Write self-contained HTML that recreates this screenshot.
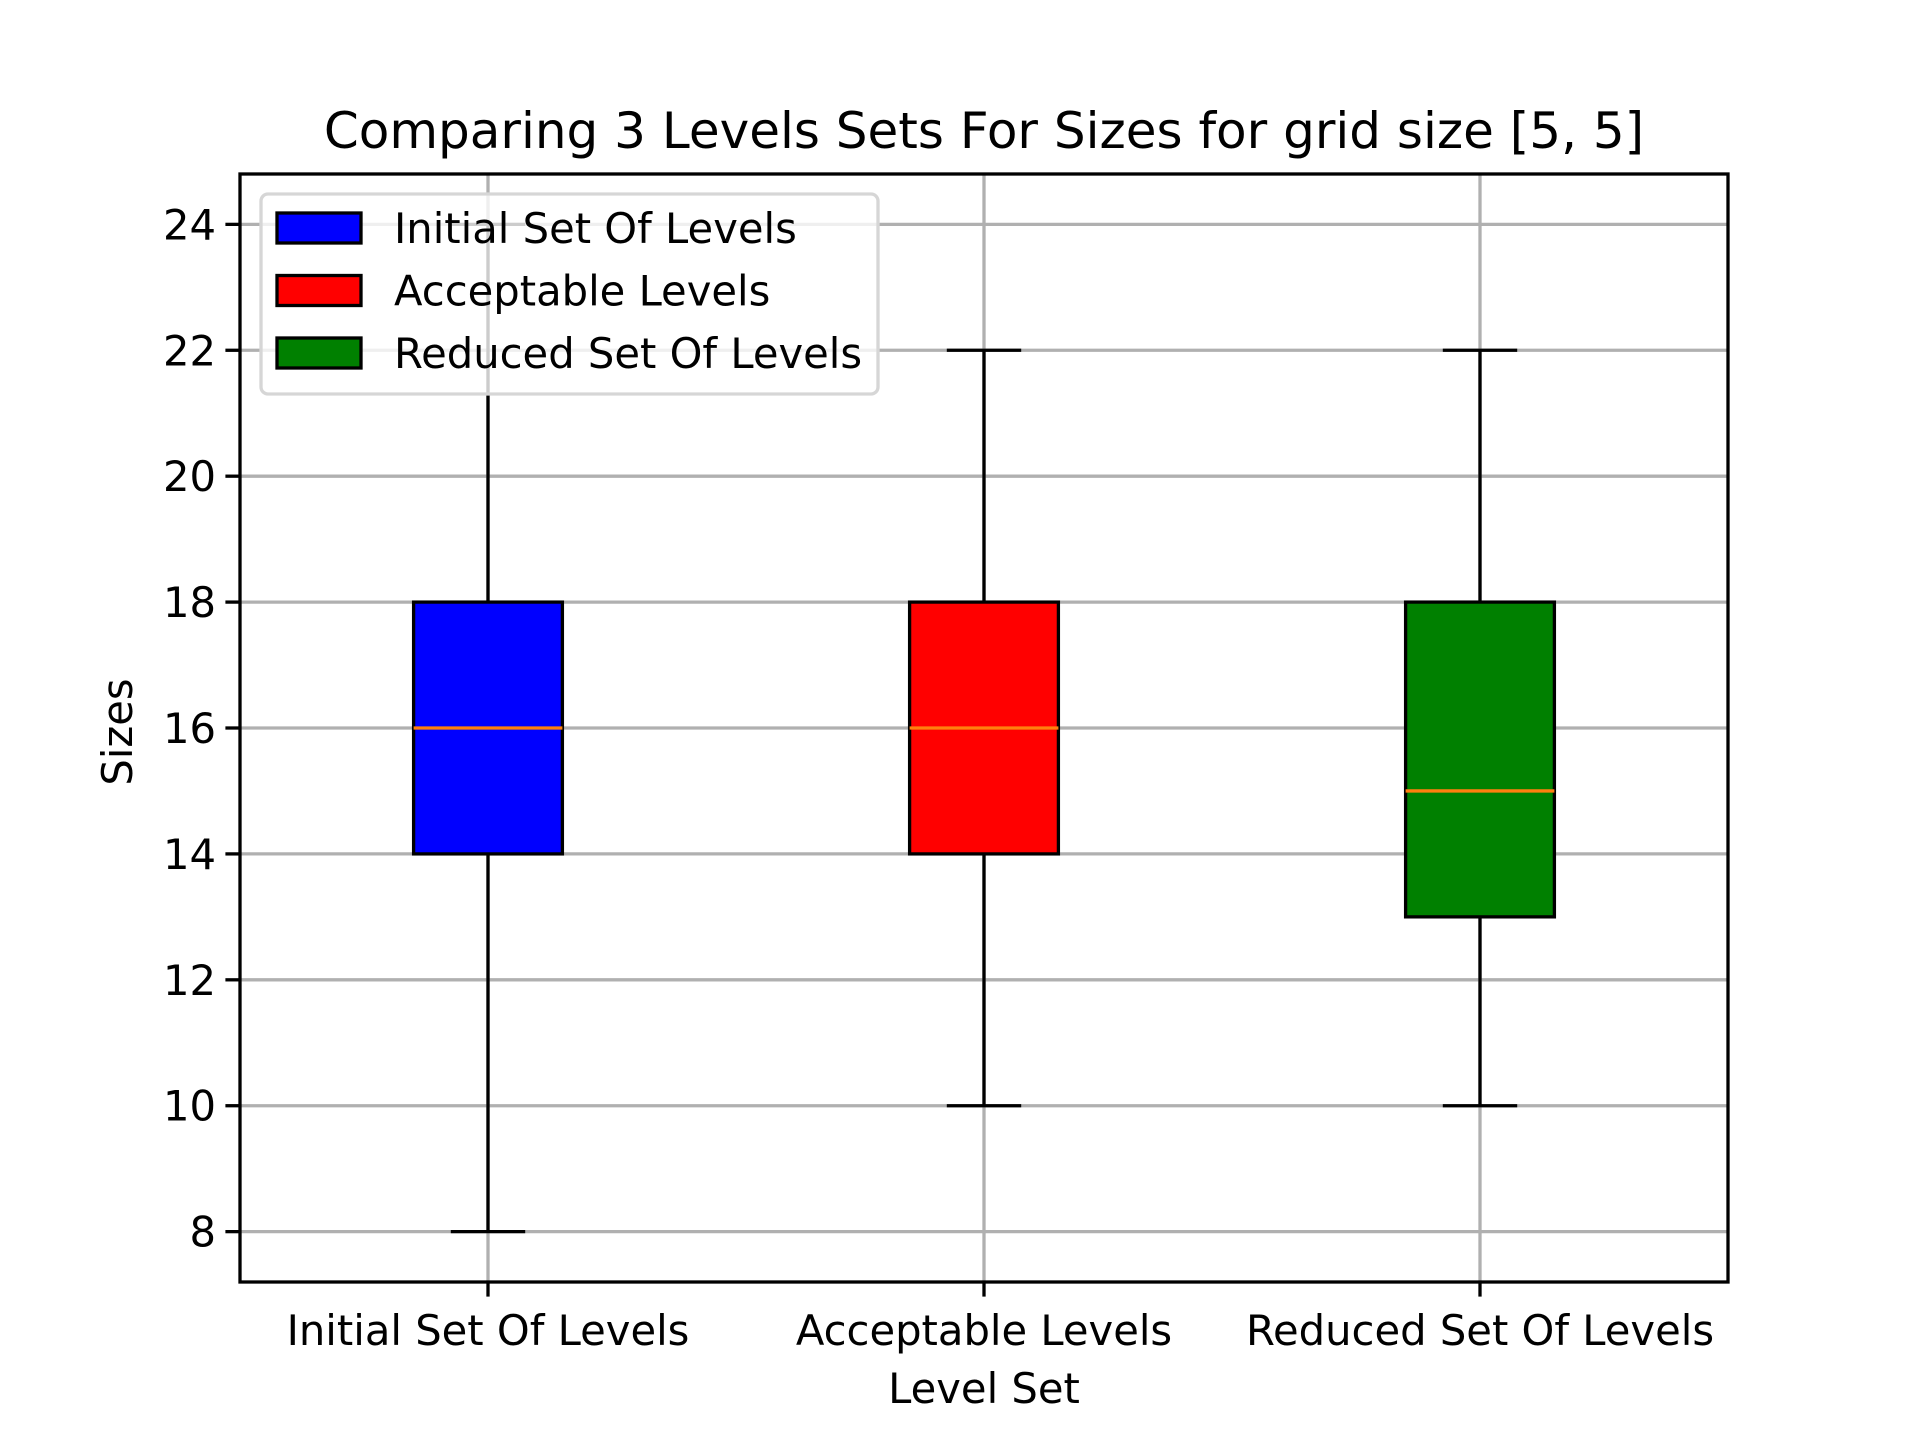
<!DOCTYPE html>
<html><head><meta charset="utf-8"><style>
html,body{margin:0;padding:0;background:#fff;}
svg{display:block;font-family:"DejaVu Sans","Liberation Sans",sans-serif;}
</style></head><body>
<svg id="chart" width="1920" height="1440" viewBox="0 0 1920 1440">
<rect x="0" y="0" width="1920" height="1440" fill="#fff"/>
<g id="grid"></g>
<g id="boxes"></g>
<rect x="240" y="174" width="1488" height="1108" fill="none" stroke="#000" stroke-width="3.3"/>
<g id="ticks"></g>
<text x="984" y="148" font-size="50" text-anchor="middle">Comparing 3 Levels Sets For Sizes for grid size [5, 5]</text>
<text x="984" y="1403" font-size="41.7" text-anchor="middle">Level Set</text>
<text transform="translate(132,732) rotate(-90)" font-size="41.7" text-anchor="middle">Sizes</text>
<g id="legend">
<rect x="261" y="194" width="617" height="200" rx="7" fill="#fff" fill-opacity="0.8" stroke="#d6d6d6" stroke-width="3.3"/>
</g>
</svg>
<script>
const categories = ["Initial Set Of Levels","Acceptable Levels","Reduced Set Of Levels"];
const whiskerLow = [8,10,10];
const q1 = [14,14,13];
const medians = [16,16,15];
const q3 = [18,18,18];
const whiskerHigh = [24,22,22];
const colors = ["#0000ff","#ff0000","#008000"];
const yTicks = [8,10,12,14,16,18,20,22,24];

const NS="http://www.w3.org/2000/svg";
const L=240,R=1728,T=174,B=1282;
const yMin=7.2,yMax=24.8;
const y=v=>B-(v-yMin)/(yMax-yMin)*(B-T);
const x=i=>L+(i+1-0.5)/3*(R-L);
const ux=(R-L)/3;
function mk(tag,attrs,parent){const e=document.createElementNS(NS,tag);for(const k in attrs)e.setAttribute(k,attrs[k]);parent.appendChild(e);return e;}
const grid=document.getElementById('grid'),boxes=document.getElementById('boxes'),ticks=document.getElementById('ticks');
yTicks.forEach(v=>{
 const g=mk('line',{x1:L,x2:R,y1:y(v),y2:y(v),stroke:'#b0b0b0','stroke-width':3.3},grid);
 
 
 const t=mk('line',{x1:L-14.6,x2:L,y1:y(v),y2:y(v),stroke:'#000','stroke-width':3.3},ticks);
 
 
 const lb=mk('text',{x:L-24,y:y(v)+15,'font-size':41.7,'text-anchor':'end'},ticks);
 lb.textContent=v;
 
 
});
categories.forEach((c,i)=>{
 const cx=x(i);
 const g=mk('line',{x1:cx,x2:cx,y1:T,y2:B,stroke:'#b0b0b0','stroke-width':3.3},grid);
 
 
 const t=mk('line',{x1:cx,x2:cx,y1:B,y2:B+14.6,stroke:'#000','stroke-width':3.3},ticks);
 
 
 const lb=mk('text',{x:cx,y:1345,'font-size':41.7,'text-anchor':'middle'},ticks);
 lb.textContent=c;
 
 
 const bw=0.3*ux,cw=0.15*ux;
 const w1=mk('line',{x1:cx,x2:cx,y1:y(q1[i]),y2:y(whiskerLow[i]),stroke:'#000','stroke-width':3.3},boxes);
 
 
 const w2=mk('line',{x1:cx,x2:cx,y1:y(q3[i]),y2:y(whiskerHigh[i]),stroke:'#000','stroke-width':3.3},boxes);
 
 
 const c1=mk('line',{x1:cx-cw/2,x2:cx+cw/2,y1:y(whiskerLow[i]),y2:y(whiskerLow[i]),stroke:'#000','stroke-width':3.3},boxes);
 
 
 const c2=mk('line',{x1:cx-cw/2,x2:cx+cw/2,y1:y(whiskerHigh[i]),y2:y(whiskerHigh[i]),stroke:'#000','stroke-width':3.3},boxes);
 
 
 const b=mk('rect',{x:cx-bw/2,y:y(q3[i]),width:bw,height:y(q1[i])-y(q3[i]),fill:colors[i],stroke:'#000','stroke-width':3.3},boxes);
 
 
 const m=mk('line',{x1:cx-bw/2,x2:cx+bw/2,y1:y(medians[i]),y2:y(medians[i]),stroke:'#ff7f0e','stroke-width':3.3},boxes);
 
 
});
const leg=document.getElementById('legend');
categories.forEach((c,i)=>{
 const yy=213+i*62.5;
 const h=mk('rect',{x:277,y:yy,width:84,height:30,fill:colors[i],stroke:'#000','stroke-width':3.3},leg);
 
 
 const t=mk('text',{x:394,y:yy+30,'font-size':41.7},leg);
 t.textContent=c;
 
 
});
</script>
</body></html>
